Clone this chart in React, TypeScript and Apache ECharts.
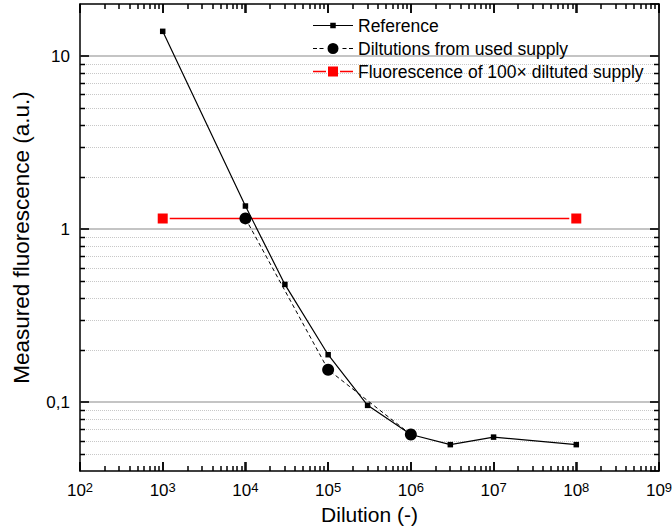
import React, { useEffect, useRef } from 'react';
import * as echarts from 'echarts';

// ---- data ----
const refDilution = [1e3, 1e4, 3e4, 1e5, 3e5, 1e6, 3e6, 1e7, 1e8];
const refFluor = [13.9, 1.36, 0.479, 0.188, 0.0958, 0.065, 0.0568, 0.0628, 0.0568];
const usedDilution = [1e4, 1e5, 1e6];
const usedFluor = [1.153, 0.154, 0.065];
const supplyDilution = [1e3, 1e8];
const supplyFluor = [1.153, 1.153];

const seriesNames = ['Reference', 'Diltutions from used supply', 'Fluorescence of 100× diltuted supply'];

// axis ranges and tick labels
const xMin = 1e2;
const xMax = 1e9;
const yMin = 0.04;
const yMax = 20;
const yMajor = [0.1, 1, 10];
const yMajorLabels = ['0,1', '1', '10'];
const xMajor = [1e2, 1e3, 1e4, 1e5, 1e6, 1e7, 1e8, 1e9];
const xDecades = [2, 3, 4, 5, 6, 7, 8];
const yDecades = [-2, -1, 0, 1];
const minorMultipliers = [2, 3, 4, 5, 6, 7, 8, 9];

const FONT = '"Liberation Sans", Arial, Helvetica, sans-serif';

const yMinor: number[] = [];
yDecades.forEach((e) =>
  minorMultipliers.forEach((m) => {
    const v = m * Math.pow(10, e);
    if (v > yMin * 1.001 && v < yMax * 0.999) yMinor.push(v);
  })
);
const xMinor: number[] = [];
xDecades.forEach((e) => minorMultipliers.forEach((m) => xMinor.push(m * Math.pow(10, e))));

const zip = (xs: number[], ys: number[]) => xs.map((x, i) => [x, ys[i]]);

const box = 'M0,0h0.01v0.01h-0.01z M39.99,13.99h0.01v0.01h-0.01z ';
const iconRef = 'path://' + box + 'M0,6.4h40v1.2h-40z M17.25,4.25h5.5v5.5h-5.5z';
const iconUsed =
  'path://' +
  box +
  'M0,6.5h4v1h-4z M6.5,6.5h4v1h-4z M29.5,6.5h4v1h-4z M36,6.5h4v1h-4z M25.5,7a5.5,5.5 0 1,1 -11,0a5.5,5.5 0 1,1 11,0z';
const iconSupply = 'path://' + box + 'M0,6.25h13v1.5h-13z M27,6.25h13v1.5h-13z M15,2h10v10h-10z';

export default function App() {
  const ref = useRef<HTMLDivElement>(null);
  useEffect(() => {
    if (!ref.current) return;
    const chart = echarts.init(ref.current, undefined, { renderer: 'svg' });

    const axisLine = { show: true, lineStyle: { color: '#000', width: 1.5 } };
    const axisTick = { show: true, inside: true, length: 9, lineStyle: { color: '#000', width: 1.5 } };
    const tickStyle = { stroke: '#000', lineWidth: 1.5 };

    const isPow10 = (v: number) => Math.abs(Math.log10(v) - Math.round(Math.log10(v))) < 0.01;

    const option: any = {
      animation: false,
      backgroundColor: '#fff',
      textStyle: { fontFamily: FONT, color: '#000' },
      grid: { left: 80, right: 13, top: 4, bottom: 58, containLabel: false, outerBoundsMode: 'none' },
      legend: {
        orient: 'vertical',
        left: 313,
        top: 16.5,
        padding: 0,
        itemWidth: 40,
        itemHeight: 14,
        itemGap: 5,
        selectedMode: false,
        itemStyle: { borderWidth: 0 },
        textStyle: { fontSize: 17.5, color: '#000', fontFamily: FONT },
        data: [
          { name: seriesNames[0], icon: iconRef },
          { name: seriesNames[1], icon: iconUsed },
          { name: seriesNames[2], icon: iconSupply },
        ],
      },
      xAxis: [
        {
          type: 'log',
          position: 'bottom',
          min: xMin,
          max: xMax,
          logBase: 10,
          name: 'Dilution (-)',
          nameLocation: 'middle',
          nameGap: 30,
          nameTextStyle: { fontSize: 21, color: '#000', fontFamily: FONT },
          axisLine,
          axisTick,
          splitLine: { show: false },
          axisLabel: {
            margin: 10,
            color: '#000',
            formatter: (v: number) => (isPow10(v) ? `{b|10}{s|${Math.round(Math.log10(v))}}` : ''),
            rich: {
              b: { fontSize: 17, lineHeight: 19, color: '#000', fontFamily: FONT },
              s: { fontSize: 13, lineHeight: 13, verticalAlign: 'top', color: '#000', fontFamily: FONT },
            },
          },
        },
        {
          type: 'log',
          position: 'top',
          min: xMin,
          max: xMax,
          logBase: 10,
          axisLine,
          axisTick,
          axisLabel: { show: false },
          splitLine: { show: false },
        },
      ],
      yAxis: [
        {
          type: 'log',
          position: 'left',
          min: yMin,
          max: yMax,
          logBase: 10,
          name: 'Measured fluorescence (a.u.)',
          nameLocation: 'middle',
          nameGap: 47,
          nameTextStyle: { fontSize: 22.5, color: '#000', fontFamily: FONT },
          axisLine,
          axisTick,
          splitLine: { show: false },
          axisLabel: {
            margin: 10,
            color: '#000',
            fontSize: 17,
            fontFamily: FONT,
            showMinLabel: false,
            showMaxLabel: false,
            formatter: (v: number) => {
              const i = yMajor.findIndex((m) => Math.abs(Math.log10(v) - Math.log10(m)) < 0.01);
              return i >= 0 ? yMajorLabels[i] : '';
            },
          },
        },
        {
          type: 'log',
          position: 'right',
          min: yMin,
          max: yMax,
          logBase: 10,
          axisLine,
          axisTick,
          axisLabel: { show: false },
          splitLine: { show: false },
        },
      ],
      series: [
        {
          type: 'custom',
          name: 'ygrid',
          silent: true,
          z: 1,
          xAxisIndex: 0,
          yAxisIndex: 0,
          data: yMinor.map((v) => [xMin, v, 0]).concat(yMajor.map((v) => [xMin, v, 1])),
          renderItem: (params: any, api: any) => {
            const v = api.value(1);
            const major = api.value(2) === 1;
            const a = api.coord([xMin, v]);
            const b = api.coord([xMax, v]);
            const y = Math.round(a[1]) + (major ? 0 : 0.5);
            const len = major ? 9 : 5;
            return {
              type: 'group',
              children: [
                {
                  type: 'line',
                  shape: { x1: a[0], y1: y, x2: b[0], y2: y },
                  style: major
                    ? { stroke: '#b0b0b0', lineWidth: 1.5 }
                    : { stroke: '#c8c8c8', lineWidth: 1, lineDash: [1, 1] },
                },
                { type: 'line', shape: { x1: a[0], y1: y, x2: a[0] + len, y2: y }, style: tickStyle },
                { type: 'line', shape: { x1: b[0] - len, y1: y, x2: b[0], y2: y }, style: tickStyle },
              ],
            };
          },
        },
        {
          type: 'custom',
          name: 'xticks',
          silent: true,
          z: 1,
          xAxisIndex: 0,
          yAxisIndex: 0,
          data: xMinor.map((v) => [v, yMin, 0]).concat(xMajor.map((v) => [v, yMin, 1])),
          renderItem: (params: any, api: any) => {
            const v = api.value(0);
            const len = api.value(2) === 1 ? 9 : 5;
            const bt = api.coord([v, yMin]);
            const tp = api.coord([v, yMax]);
            const x = Math.round(bt[0]);
            return {
              type: 'group',
              children: [
                { type: 'line', shape: { x1: x, y1: bt[1], x2: x, y2: bt[1] - len }, style: tickStyle },
                { type: 'line', shape: { x1: x, y1: tp[1], x2: x, y2: tp[1] + len }, style: tickStyle },
              ],
            };
          },
        },
        {
          type: 'line',
          name: seriesNames[2],
          z: 2,
          data: zip(supplyDilution, supplyFluor),
          symbol: 'rect',
          symbolSize: 12,
          itemStyle: { color: '#ff0000', borderColor: '#ffffff', borderWidth: 2 },
          lineStyle: { color: '#ff0000', width: 1.5 },
        },
        {
          type: 'line',
          name: seriesNames[1],
          z: 3,
          data: zip(usedDilution, usedFluor),
          symbol: 'circle',
          symbolSize: 12,
          itemStyle: { color: '#000' },
          lineStyle: { color: '#000', width: 1, type: [4, 3] },
        },
        {
          type: 'line',
          name: seriesNames[0],
          z: 4,
          data: zip(refDilution, refFluor),
          symbol: 'rect',
          symbolSize: 5.5,
          itemStyle: { color: '#000' },
          lineStyle: { color: '#000', width: 1.2 },
        },
      ],
    };
    chart.setOption(option);
    return () => chart.dispose();
  }, []);
  return <div ref={ref} style={{ position: 'fixed', left: 0, top: 0, width: 672, height: 529 }} />;
}
